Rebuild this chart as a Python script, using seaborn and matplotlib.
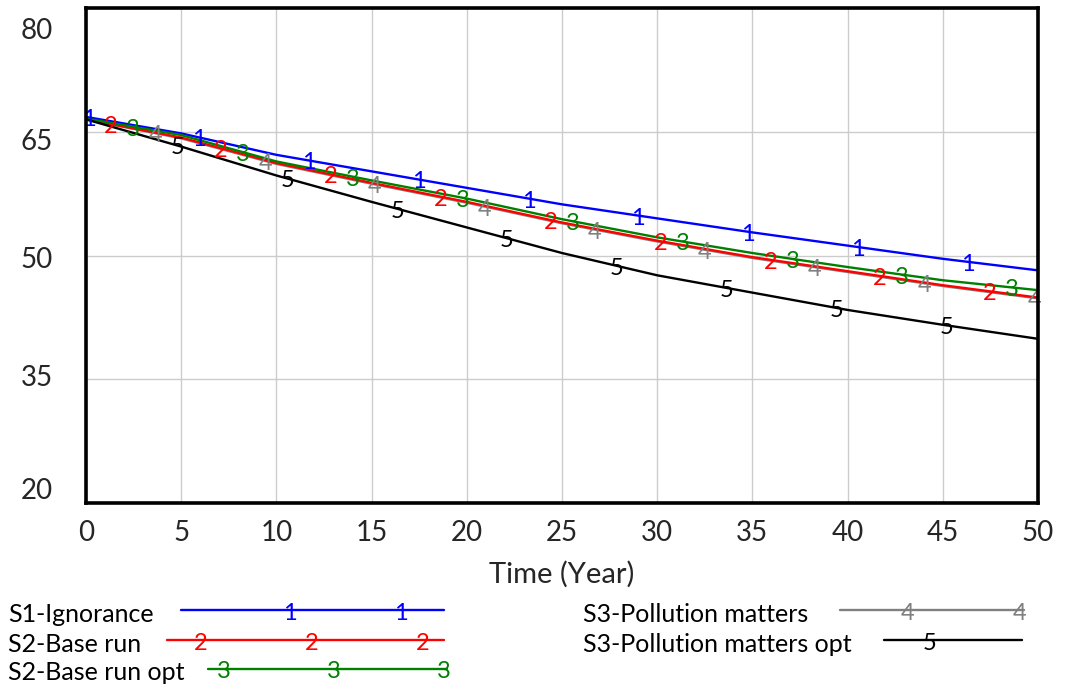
import matplotlib.pyplot as plt
import numpy as np
import pandas as pd
import seaborn as sns

# values at every 5 years
years = [0, 5, 10, 15, 20, 25, 30, 35, 40, 45, 50]
s1_ignorance = [66.8, 64.8, 62.2, 60.2, 58.2, 56.2, 54.5, 52.8, 51.2, 49.6, 48.2]
s2_base = [66.5, 64.3, 61.2, 58.8, 56.5, 54.0, 51.8, 49.8, 48.1, 46.4, 44.9]
s2_base_opt = [66.6, 64.6, 61.4, 59.1, 56.9, 54.4, 52.2, 50.3, 48.6, 47.0, 45.8]
s3_pollution = [66.5, 64.2, 61.1, 58.7, 56.4, 53.9, 51.7, 49.7, 48.0, 46.3, 44.8]
s3_pollution_opt = [66.5, 63.2, 59.7, 56.5, 53.4, 50.3, 47.6, 45.5, 43.4, 41.6, 39.9]

runs = ['S1-Ignorance', 'S2-Base run', 'S2-Base run opt',
        'S3-Pollution matters', 'S3-Pollution matters opt']
series = [s1_ignorance, s2_base, s2_base_opt, s3_pollution, s3_pollution_opt]
colors = ['#0000ff', '#ff0000', '#008000', '#808080', '#000000']
palette = dict(zip(runs, colors))

y_grid = [20, 35, 50, 65, 80]
y_labels = ['20', '35', '50', '65', '80']
y_label_pos = [21.8, 35.45, 49.8, 64.0, 77.5]  # vensim puts labels a bit off the grid
x_ticks = list(range(0, 51, 5))

df = pd.DataFrame({
    'Time': years * len(runs),
    'Value': sum(series, []),
    'Run': [r for r in runs for _ in years],
})

sns.set_theme(style='white')
plt.rcParams['font.family'] = ['Lato', 'DejaVu Sans']

fig = plt.figure(figsize=(10.65, 6.98), dpi=100)
ax = fig.add_axes([86 / 1065, 1 - 503 / 698, (1038 - 86) / 1065, (503 - 8) / 698])

# grey first so the red run sits on top of it
order = ['S3-Pollution matters', 'S1-Ignorance', 'S2-Base run',
         'S2-Base run opt', 'S3-Pollution matters opt']
sns.lineplot(data=df, x='Time', y='Value', hue='Run', hue_order=order,
             palette=palette, estimator=None, linewidth=1.7, legend=False,
             ax=ax, zorder=3)

# numbered labels along each line
for i, (name, vals) in enumerate(zip(runs, series)):
    xs = np.arange(0.16 + i * 1.16, 50.01, 5.77)
    ys = np.interp(xs, years, vals)
    for xx, yy in zip(xs, ys):
        ax.text(xx, yy - 0.3, str(i + 1), color=colors[i], fontsize=17,
                ha='center', va='center', zorder=4)

ax.set_xlim(0, 50)
ax.set_ylim(20, 80)
ax.set_xticks(x_ticks)
ax.set_xticklabels([str(t) for t in x_ticks], fontsize=20)
ax.set_yticks(y_grid)
ax.set_yticklabels([''] * len(y_grid))
ax.set_yticks(y_label_pos, labels=y_labels, minor=True)
ax.tick_params(axis='y', which='both', length=0, pad=24, labelsize=20)
ax.tick_params(axis='x', length=0, pad=12)
ax.grid(True, which='major', color='#cccccc', linewidth=1.0)
ax.set_xlabel('Time (Year)', fontsize=21, labelpad=11)
ax.set_ylabel('')
for sp in ax.spines.values():
    sp.set_color('black')
    sp.set_linewidth(2.6)
    sp.set_zorder(5)

# legend drawn in pixel space under the plot
lg = fig.add_axes([0, 0, 1, 108 / 698])
lg.set_xlim(0, 1065)
lg.set_ylim(698, 590)
lg.axis('off')
legend_text_xy = [(8, 614), (8, 644), (8, 673), (583, 614), (583, 644)]
legend_line = [(181, 444, 610), (167, 444, 640), (208, 447, 669),
               (840, 1024, 610), (884, 1022, 640)]
legend_nums = [[290, 401], [201, 312, 423], [224, 334, 444], [908, 1020], [930]]
for i, name in enumerate(runs):
    tx, ty = legend_text_xy[i]
    lg.text(tx, ty, name, fontsize=18, ha='left', va='center', color='black')
    x0, x1, ly = legend_line[i]
    lg.plot([x0, x1], [ly, ly], color=colors[i], linewidth=1.7)
    for nx in legend_nums[i]:
        lg.text(nx, ly + 3, str(i + 1), color=colors[i], fontsize=17,
                ha='center', va='center')

fig.savefig('out.png', dpi=100)
